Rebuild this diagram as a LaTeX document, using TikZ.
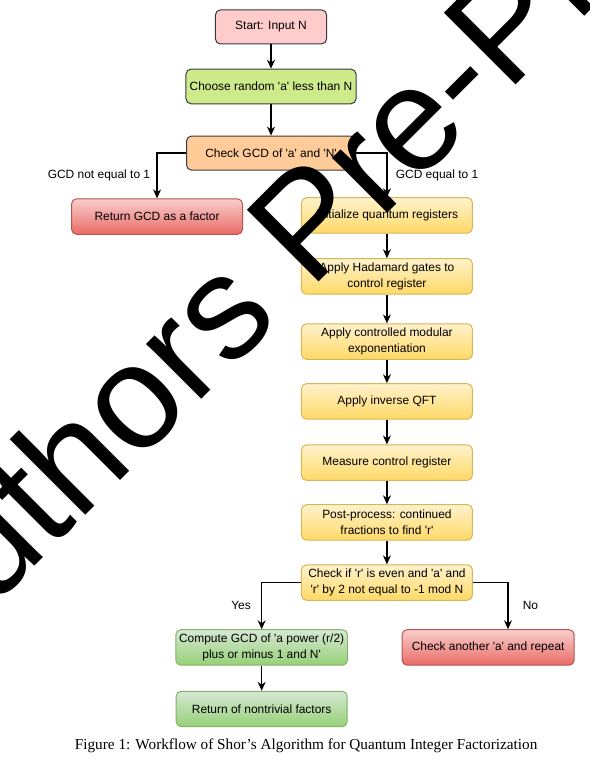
\documentclass[tikz,border=0pt]{standalone}
\usepackage{fontspec}
\setmainfont{Liberation Sans}
\newfontfamily\capfont{Liberation Serif}
\usepackage{xcolor}
\usepackage{tikz}
\usetikzlibrary{arrows.meta,positioning,calc}

\definecolor{pinkfill}{HTML}{FFCCCC}
\definecolor{limefill}{HTML}{CDEB8B}
\definecolor{orangefill}{HTML}{FFCC99}
\definecolor{darkline}{HTML}{36393D}
\definecolor{redtop}{HTML}{F8CECC}
\definecolor{redbot}{HTML}{EA6B66}
\definecolor{redline}{HTML}{B85450}
\definecolor{yeltop}{HTML}{FFF2CC}
\definecolor{yelbot}{HTML}{FFD966}
\definecolor{yelline}{HTML}{D6B656}
\definecolor{grntop}{HTML}{D5E8D4}
\definecolor{grnbot}{HTML}{97D077}
\definecolor{grnline}{HTML}{82B366}

\newcommand{\q}{\textquotesingle}

\begin{document}
\begin{tikzpicture}[
    font=\fontsize{12}{16}\selectfont,
    >={Stealth[length=9pt,width=8pt]},
    line width=1.2pt,
    box/.style={
        draw=darkline,
        line width=1pt,
        rectangle,
        rounded corners=5pt,
        minimum width=6.0cm,
        minimum height=1.22cm,
        align=center,
        fill=#1,
    },
    gradbox/.style n args={3}{
        draw=#3,
        line width=1pt,
        rectangle,
        rounded corners=5pt,
        minimum width=6.03cm,
        minimum height=1.25cm,
        align=center,
        top color=#1,
        bottom color=#2,
    },
    redbox/.style={gradbox={redtop}{redbot}{redline}},
    yelbox/.style={gradbox={yeltop}{yelbot}{yelline}},
    grnbox/.style={gradbox={grntop}{grnbot}{grnline}}
]
\useasboundingbox (0,0) rectangle (20.81,-27.41);

% =========================================================
% classical part
% =========================================================
\node[box=pinkfill, minimum width=3.92cm, minimum height=1.2cm] (start) at (9.56,-0.95) {Start: Input N};
\node[box=limefill] (choose) at (9.56,-3.05) {Choose random \q a\q{} less than N};
\node[box=orangefill, minimum width=5.96cm, minimum height=1.2cm] (gcd) at (9.56,-5.40) {Check GCD of \q a\q{} and \q N\q};

\node[redbox] (retgcd) at (5.54,-7.64) {Return GCD as a factor};

\draw[->] (start.south) -- (choose.north);
\draw[->] (choose.south) -- (gcd.north);
\draw[->] (gcd.west) -| node[pos=0.75, left=3pt] {GCD not equal to 1} (retgcd.north);

% =========================================================
% quantum part
% =========================================================
\node[yelbox] (init)     at (13.65,-7.60)  {Initialize quantum registers};
\node[yelbox] (hadamard) at (13.65,-9.75)  {Apply Hadamard gates to\\control register};
\node[yelbox] (modexp)   at (13.65,-12.05) {Apply controlled modular\\exponentiation};
\node[yelbox] (iqft)     at (13.65,-14.16) {Apply inverse QFT};
\node[yelbox] (measure)  at (13.65,-16.32) {Measure control register};
\node[yelbox] (post)     at (13.65,-18.43) {Post-process: continued\\fractions to find \q r\q};
\node[yelbox] (checkr)   at (13.65,-20.55) {Check if \q r\q{} is even and \q a\q{} and\\\q r\q{} by 2 not equal to -1 mod N};

\draw[->] (gcd.east) -| node[pos=0.75, right=5pt] {GCD equal to 1} (init.north);
\draw[->] (init.south) -- (hadamard.north);
\draw[->] (hadamard.south) -- (modexp.north);
\draw[->] (modexp.south) -- (iqft.north);
\draw[->] (iqft.south) -- (measure.north);
\draw[->] (measure.south) -- (post.north);
\draw[->] (post.south) -- (checkr.north);

% =========================================================
% result
% =========================================================
\node[grnbox] (compute) at (9.23,-22.84) {Compute GCD of \q a power (r/2)\\plus or minus 1 and N\q};
\node[grnbox] (nontriv) at (9.23,-25.01) {Return of nontrivial factors};
\node[redbox, minimum width=6.07cm] (another) at (17.22,-22.84) {Check another \q a\q{} and repeat};

\draw[->] (checkr.west) -| node[pos=0.75, left=7pt] {Yes} (compute.north);
\draw[->] (checkr.east) -| node[pos=0.75, right=11pt] {No} ($(another.north)+(0.70,0)$);
\draw[->] (compute.south) -- (nontriv.north);

% caption
\node[font=\capfont\fontsize{15.3}{17}\selectfont] (caption) at (10.80,-26.32) {Figure 1: Workflow of Shor’s Algorithm for Quantum Integer Factorization};

% watermark on top
\begin{scope}
\clip (0,0) rectangle (20.81,-27.41);
\node[font=\fontsize{148}{148}\selectfont, rotate=45, anchor=base west, inner sep=0pt] (mark) at (-2.75,-23.95) {Authors Pre-Proof};
\end{scope}

\end{tikzpicture}
\end{document}
